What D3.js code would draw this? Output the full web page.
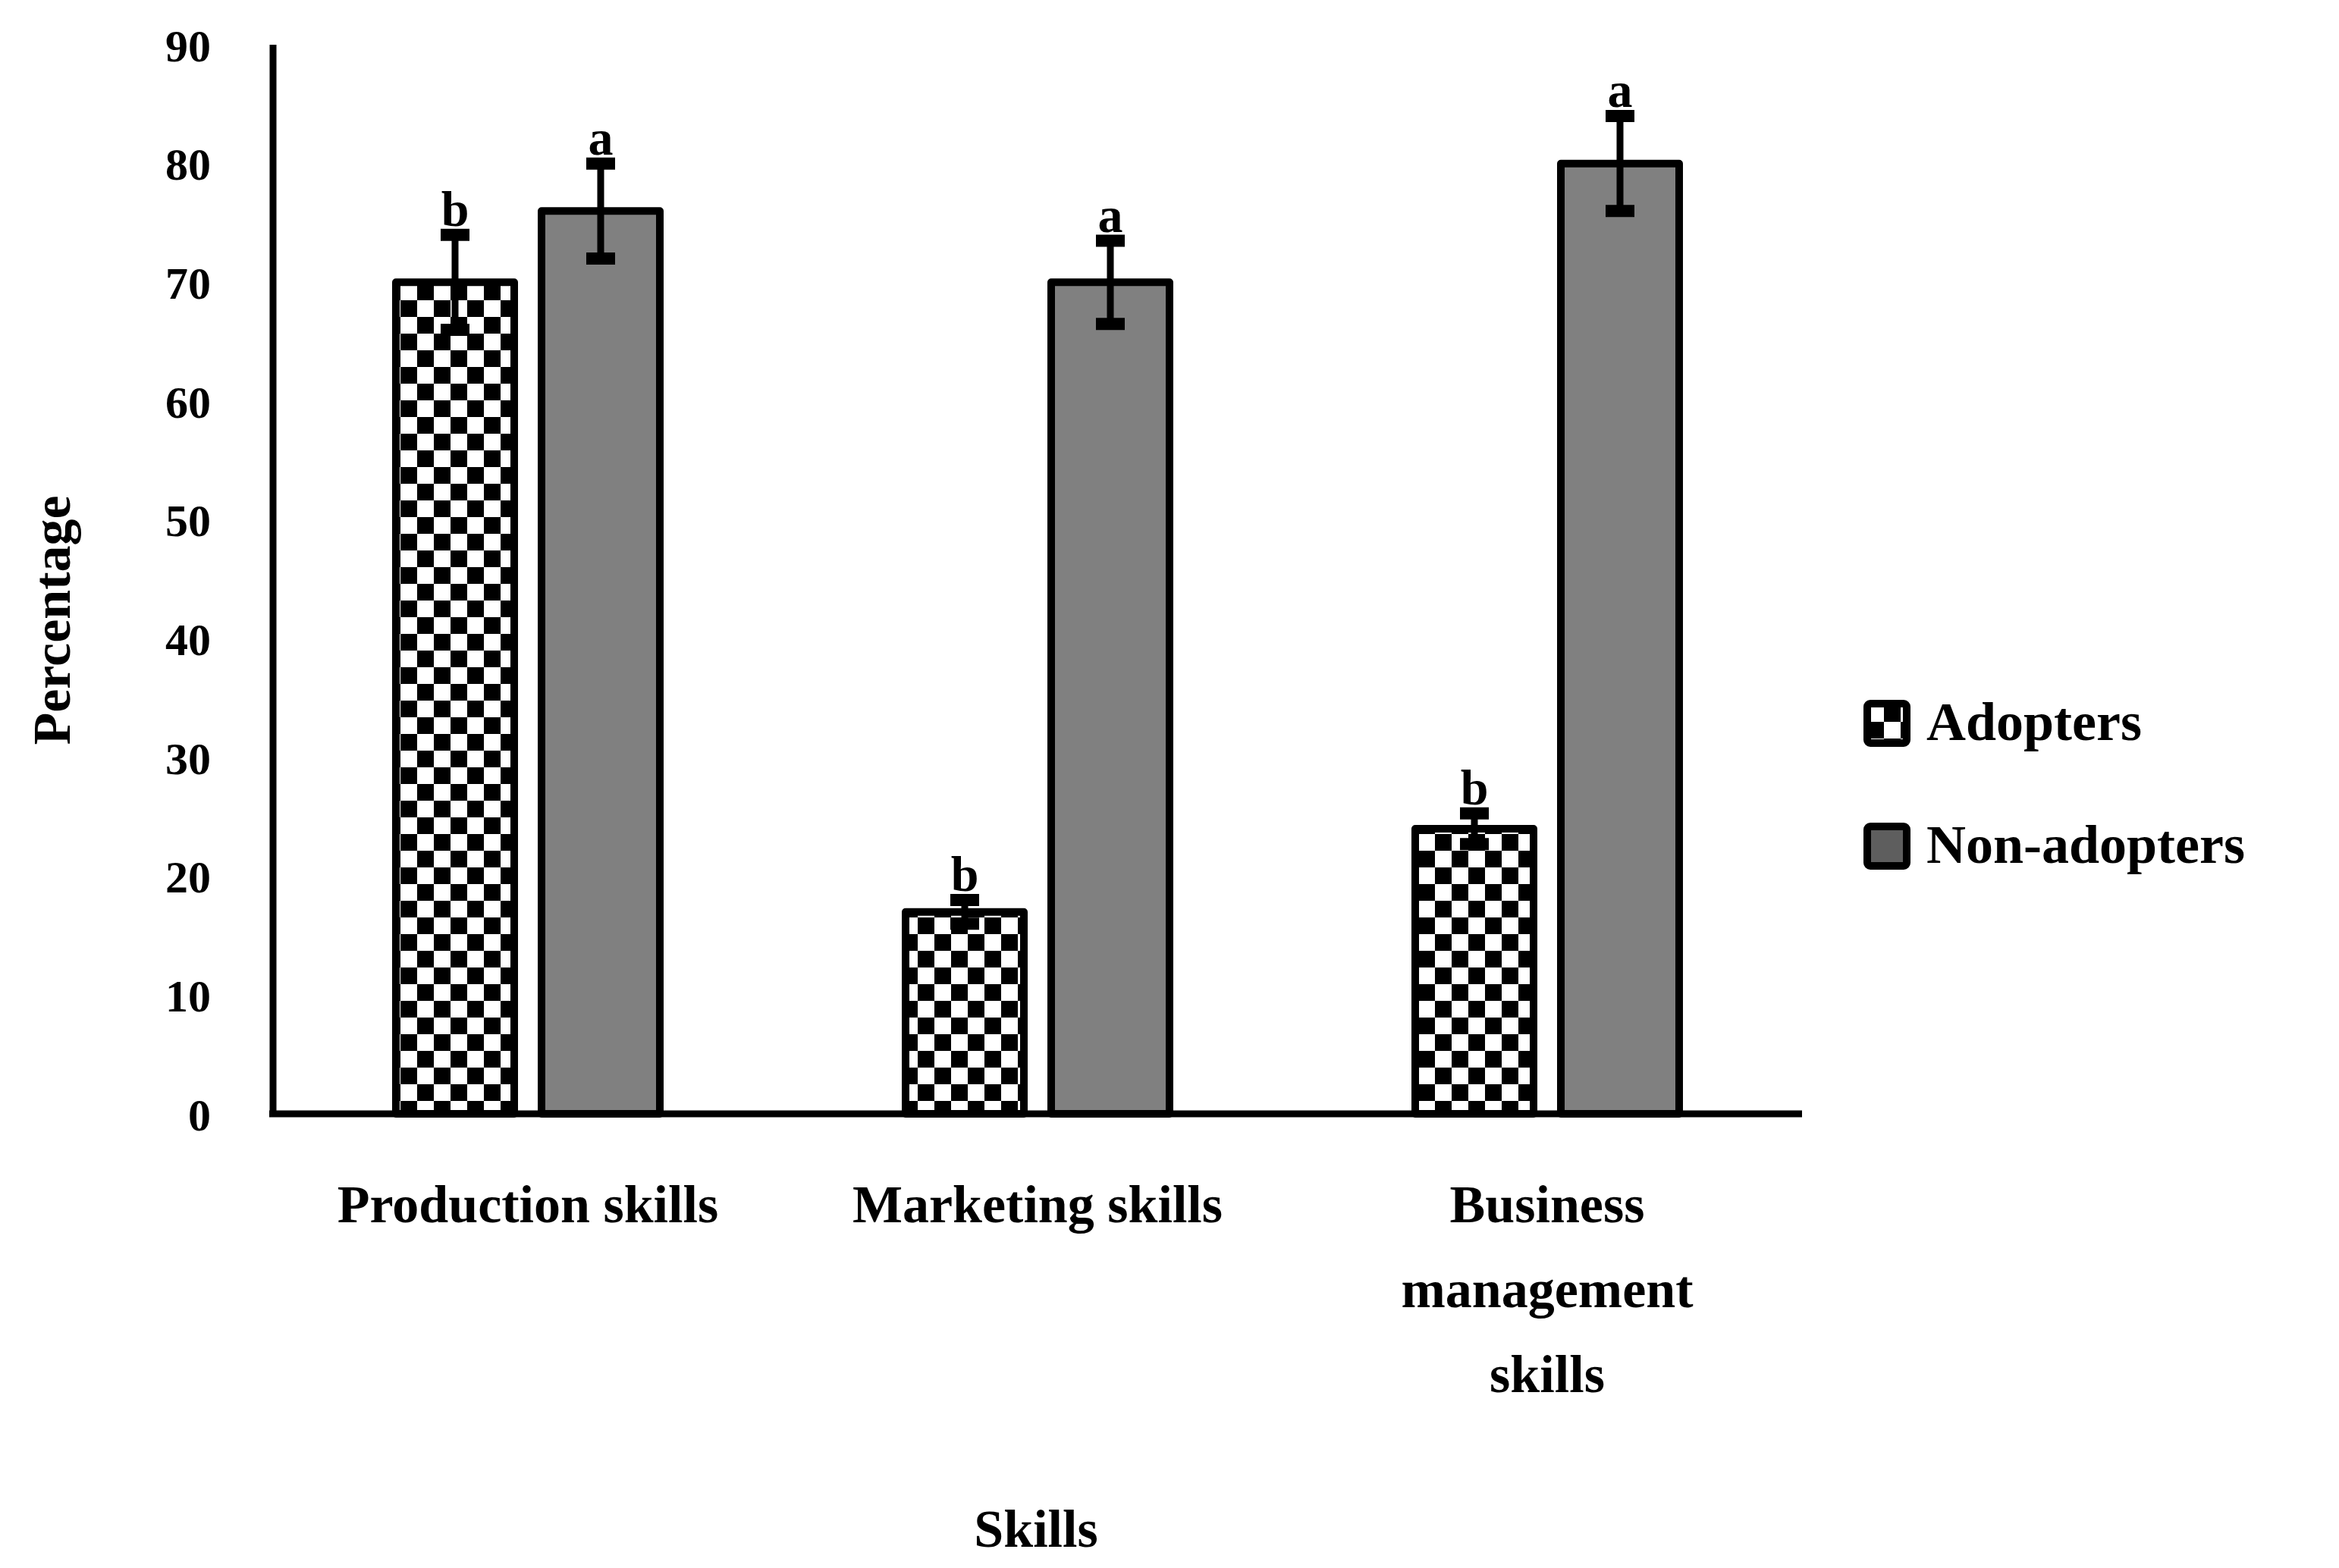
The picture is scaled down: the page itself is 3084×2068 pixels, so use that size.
<html lang="en">
<head>
<meta charset="UTF-8">
<script src="https://cdn.jsdelivr.net/npm/d3@7"></script>
<style>body{margin:0;background:#fff}</style>
</head>
<body>
<script>
    // chart data
    let categories = ["Production skills", "Marketing skills", "Business management skills"]
    let catLines = [["Production skills"], ["Marketing skills"], ["Business", "management", "skills"]]
    let series = ["Adopters", "Non-adopters"]
    let adopters = [70, 17, 24]
    let adoptersErr = [4, 1, 1.3]
    let nonAdopters = [76, 70, 80]
    let nonAdoptersErr = [4, 3.5, 4]
    let adoptersLetter = ["b", "b", "b"]
    let nonAdoptersLetter = ["a", "a", "a"]
    let yTicks = [0, 10, 20, 30, 40, 50, 60, 70, 80, 90]

    let W = 3084, H = 2068
    let font = "'Liberation Serif', serif"
    let svg = d3.select('body').append('svg').attr('width', W).attr('height', H)

    // checkerboard pattern
    let defs = svg.append('defs')
    let pat = defs.append('pattern').attr('id', 'checker')
        .attr('patternUnits', 'userSpaceOnUse').attr('width', 44).attr('height', 44)
    pat.append('rect').attr('width', 44).attr('height', 44).attr('fill', '#fff')
    pat.append('rect').attr('width', 22).attr('height', 22).attr('fill', '#000')
    pat.append('rect').attr('x', 22).attr('y', 22).attr('width', 22).attr('height', 22).attr('fill', '#000')

    let pLeft = 360, pRight = 2376, pTop = 59, pBottom = 1469
    let x = d3.scaleBand().domain(categories).range([pLeft, pRight])
    let y = d3.scaleLinear().domain([0, 90]).range([pBottom, pTop])
    let barW = 156, gap = 36

    let rows = categories.map((c, i) => ({c: c, i: i}))
    let drawSeries = function (vals, errs, letters, offset, fill) {
        let g = svg.append('g')
        let cx = d => x(d.c) + x.bandwidth() / 2 + offset
        g.selectAll('rect').data(rows).enter().append('rect')
            .attr('x', d => cx(d) - barW / 2)
            .attr('y', d => y(vals[d.i]))
            .attr('width', barW)
            .attr('height', d => y(0) - y(vals[d.i]))
            .attr('fill', fill).attr('stroke', '#000').attr('stroke-width', 10)
            .attr('stroke-linejoin', 'round')
        g.selectAll('line.v').data(rows).enter().append('line')
            .attr('x1', cx).attr('x2', cx)
            .attr('y1', d => y(vals[d.i] - errs[d.i])).attr('y2', d => y(vals[d.i] + errs[d.i]))
            .attr('stroke', '#000').attr('stroke-width', 9)
        ;[-1, 1].forEach(s => {
            g.selectAll('line.c' + s).data(rows).enter().append('line')
                .attr('x1', d => cx(d) - 19).attr('x2', d => cx(d) + 19)
                .attr('y1', d => y(vals[d.i] + s * errs[d.i])).attr('y2', d => y(vals[d.i] + s * errs[d.i]))
                .attr('stroke', '#000').attr('stroke-width', 16)
        })
        g.selectAll('text').data(rows).enter().append('text')
            .attr('x', cx).attr('y', d => y(vals[d.i] + errs[d.i]) - 12)
            .attr('text-anchor', 'middle').attr('font-family', font).attr('font-weight', 'bold')
            .attr('font-size', 66).text(d => letters[d.i])
    }
    drawSeries(adopters, adoptersErr, adoptersLetter, -(barW + gap) / 2, 'url(#checker)')
    drawSeries(nonAdopters, nonAdoptersErr, nonAdoptersLetter, (barW + gap) / 2, '#808080')

    // axes
    let yAxis = svg.append('g').attr('transform', `translate(${pLeft},0)`)
        .call(d3.axisLeft(y).tickValues(yTicks).tickSize(0).tickPadding(82))
    yAxis.select('.domain').attr('stroke-width', 9).attr('d', `M0,${pTop}V${pBottom}`)
    yAxis.selectAll('text').attr('font-family', font).attr('font-weight', 'bold').attr('font-size', 60)
        .attr('fill', '#000').attr('dy', '0.35em')
    svg.append('line').attr('x1', pLeft - 5).attr('x2', pRight).attr('y1', pBottom).attr('y2', pBottom)
        .attr('stroke', '#000').attr('stroke-width', 9)

    // category labels
    svg.selectAll('text.cat').data(rows).enter().append('text').attr('class', 'cat')
        .attr('text-anchor', 'middle').attr('font-family', font).attr('font-weight', 'bold').attr('font-size', 70)
        .each(function (d) {
            d3.select(this).selectAll('tspan').data(catLines[d.i]).enter().append('tspan')
                .attr('x', x(d.c) + x.bandwidth() / 2).attr('y', (t, k) => 1612 + k * 112).text(t => t)
        })

    svg.append('text').attr('x', (pLeft + pRight) / 2 - 2).attr('y', 2040).attr('text-anchor', 'middle')
        .attr('font-family', font).attr('font-weight', 'bold').attr('font-size', 70).text('Skills')
    svg.append('text').attr('transform', 'translate(92,818) rotate(-90)').attr('text-anchor', 'middle')
        .attr('font-family', font).attr('font-weight', 'bold').attr('font-size', 70).text('Percentage')

    // legend
    let leg = svg.append('g').selectAll('g').data(series).enter().append('g')
        .attr('transform', (d, i) => `translate(2462,${952 + i * 162})`)
    leg.append('rect').attr('x', 0).attr('y', -24).attr('width', 52).attr('height', 52)
        .attr('rx', 4).attr('fill', (d, i) => i ? '#5e5e5e' : 'url(#checker)')
        .attr('stroke', '#000').attr('stroke-width', 10)
    leg.append('text').attr('x', 78).attr('y', 24).attr('font-family', font).attr('font-weight', 'bold')
        .attr('font-size', 72).text(d => d)
</script>
</body>
</html>
